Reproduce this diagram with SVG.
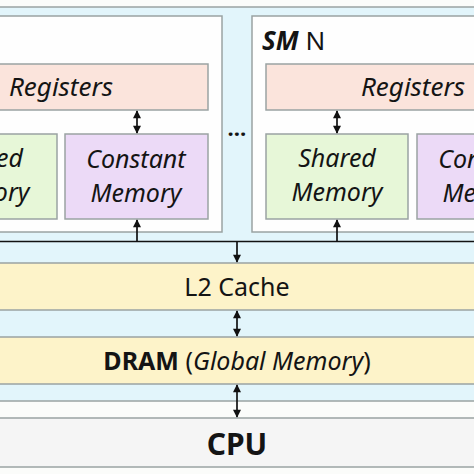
<svg xmlns="http://www.w3.org/2000/svg" width="474" height="474" viewBox="0 0 474 474">
<defs>
<style>
.t{font-family:"Noto Sans","Open Sans",sans-serif;fill:#141414}
.it{font-style:italic}
.box{stroke:#9aa3a3;stroke-width:1.5}
.ln{stroke:#111;stroke-width:1.7;fill:none}
</style>
<marker id="ah" viewBox="0 0 10 10" refX="9" refY="5" markerWidth="9" markerHeight="8" orient="auto-start-reverse" markerUnits="userSpaceOnUse">
<path d="M0,0 L10,5 L0,10 z" fill="#111"/>
</marker>
</defs>
<rect x="0" y="0" width="474" height="474" fill="#fbfcfa"/>
<g id="gpu"><rect class="box" x="-5" y="7" width="484" height="394" fill="#e2f5fb"/></g>
<g id="sm1">
<rect class="box" x="-80" y="16" width="302" height="216" fill="#fefefe"/>
</g>
<g id="sm1-registers"><rect class="box" x="-86" y="64" width="294" height="46" fill="#fbe4dc"/>
<text class="t it" x="61" y="96" font-size="26" text-anchor="middle">Registers</text></g>
<g id="sm1-shared"><rect class="box" x="-90" y="134" width="147" height="85" fill="#e7f7d8"/>
<text class="t it" x="-16" y="167" font-size="25" text-anchor="middle">Shared</text>
<text class="t it" x="-16" y="201" font-size="25" text-anchor="middle">Memory</text></g>
<g id="sm1-constant"><rect class="box" x="65" y="134" width="143" height="85" fill="#ecdaf7"/>
<text class="t it" x="136" y="168" font-size="25" text-anchor="middle">Constant</text>
<text class="t it" x="136" y="202" font-size="25" text-anchor="middle">Memory</text></g>
<g id="dots"><text class="t" x="237" y="136" font-size="22" font-weight="bold" text-anchor="middle">…</text></g>
<g id="smN">
<rect class="box" x="252" y="16" width="302" height="216" fill="#fefefe"/>
<text class="t" x="262" y="50" font-size="26"><tspan font-weight="bold" font-style="italic">SM</tspan> N</text>
</g>
<g id="smN-registers"><rect class="box" x="266" y="64" width="294" height="46" fill="#fbe4dc"/>
<text class="t it" x="413" y="96" font-size="26" text-anchor="middle">Registers</text></g>
<g id="smN-shared"><rect class="box" x="266" y="134" width="142" height="85" fill="#e7f7d8"/>
<text class="t it" x="337" y="167" font-size="25" text-anchor="middle">Shared</text>
<text class="t it" x="337" y="201" font-size="25" text-anchor="middle">Memory</text></g>
<g id="smN-constant"><rect class="box" x="417" y="134" width="143" height="85" fill="#ecdaf7"/>
<text class="t it" x="488" y="168" font-size="25" text-anchor="middle">Constant</text>
<text class="t it" x="488" y="202" font-size="25" text-anchor="middle">Memory</text></g>
<g id="l2"><rect class="box" x="-5" y="263" width="484" height="47" fill="#fdf3c9"/>
<text class="t" x="237" y="296" font-size="25" text-anchor="middle">L2 Cache</text></g>
<g id="dram"><rect class="box" x="-5" y="337" width="484" height="47" fill="#fdf3c9"/>
<text class="t" x="237" y="370" font-size="25" text-anchor="middle"><tspan font-weight="bold">DRAM</tspan> (<tspan font-style="italic">Global Memory</tspan>)</text></g>
<g id="cpu"><rect class="box" x="-5" y="418" width="484" height="49" fill="#f5f5f5"/>
<text class="t" x="237" y="455" font-size="30" font-weight="bold" text-anchor="middle">CPU</text></g>
<g id="connectors">
<line class="ln" x1="-5" y1="241.5" x2="479" y2="241.5"/>
<line class="ln" x1="137" y1="111" x2="137" y2="133" marker-start="url(#ah)" marker-end="url(#ah)"/>
<line class="ln" x1="337" y1="111" x2="337" y2="133" marker-start="url(#ah)" marker-end="url(#ah)"/>
<line class="ln" x1="137" y1="241.5" x2="137" y2="220" marker-end="url(#ah)"/>
<line class="ln" x1="337" y1="241.5" x2="337" y2="220" marker-end="url(#ah)"/>
<line class="ln" x1="237" y1="241.5" x2="237" y2="262" marker-end="url(#ah)"/>
<line class="ln" x1="237" y1="311" x2="237" y2="336" marker-start="url(#ah)" marker-end="url(#ah)"/>
<line class="ln" x1="237" y1="385" x2="237" y2="417" marker-start="url(#ah)" marker-end="url(#ah)"/>
</g>
</svg>
